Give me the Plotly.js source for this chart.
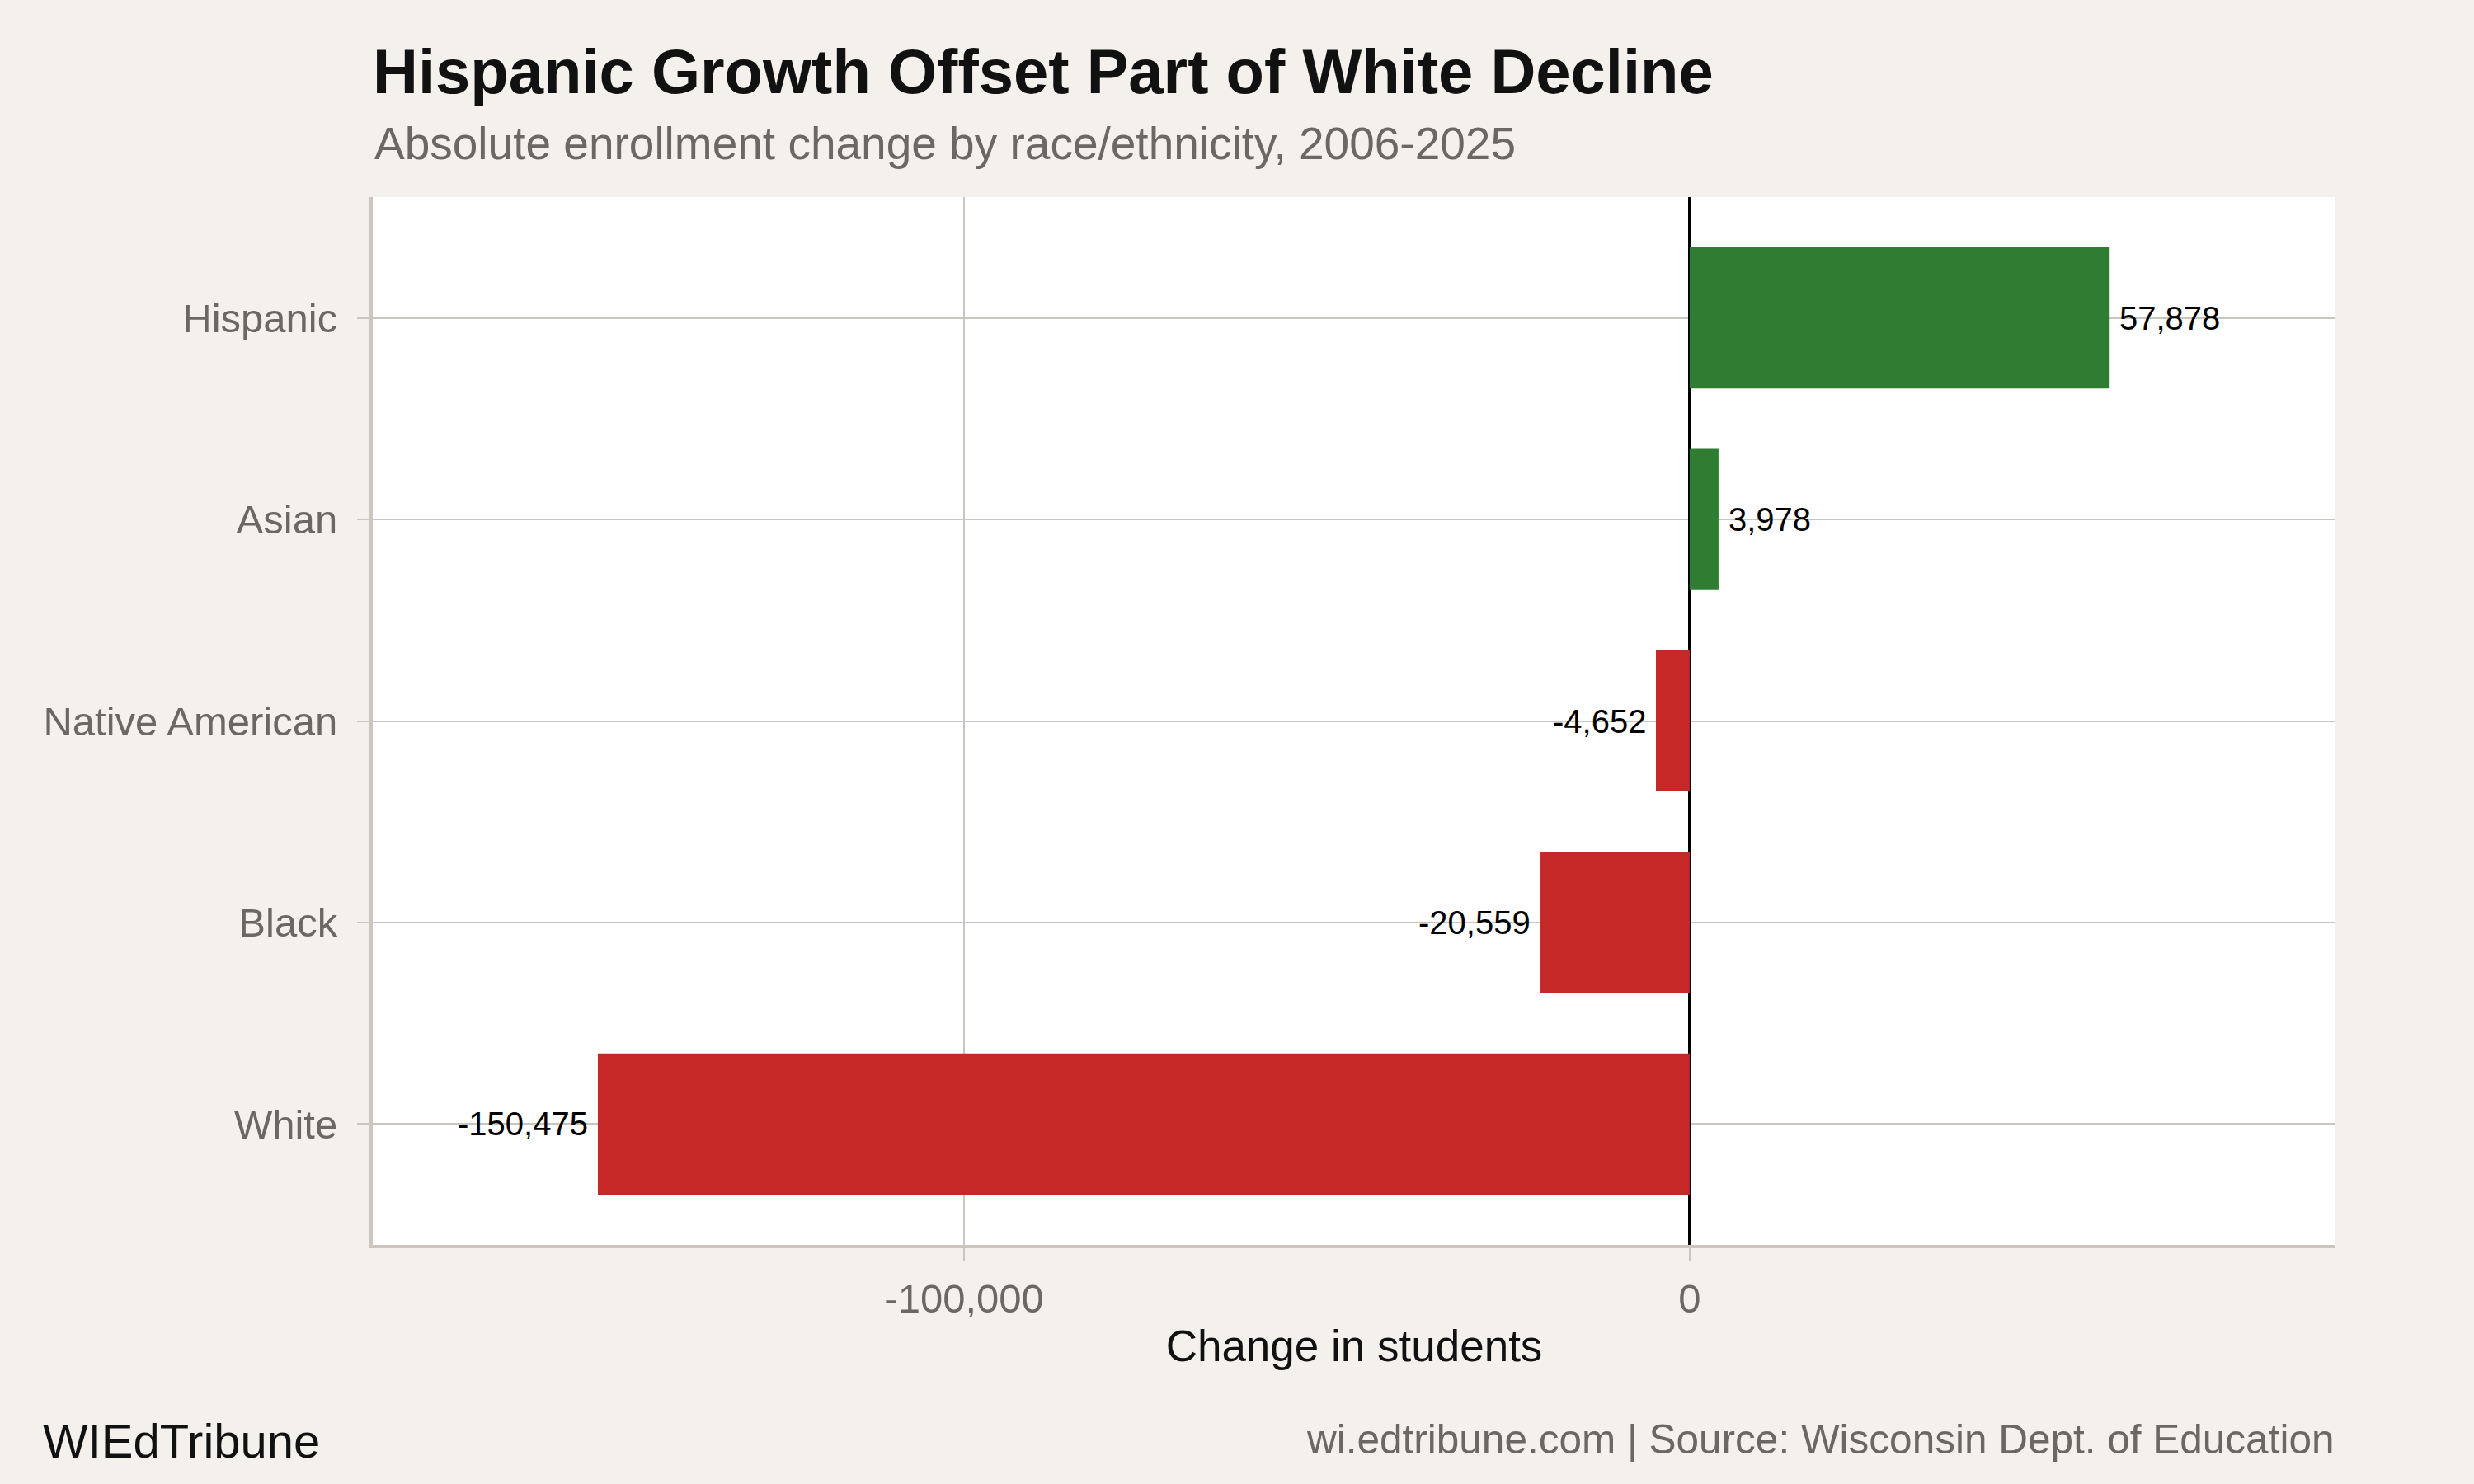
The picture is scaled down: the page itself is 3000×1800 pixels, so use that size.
<!DOCTYPE html>
<html>
<head>
<meta charset="utf-8">
<script src="https://cdn.plot.ly/plotly-3.0.1.min.js"></script>
<style>
html,body{margin:0;padding:0;background:#F4F1EC;}
#chart{width:3000px;height:1800px;}
</style>
</head>
<body>
<div id="chart"></div>
<script>
// Data
const categories = ["Hispanic", "Asian", "Native American", "Black", "White"];
const changes = [57878, 3978, -4652, -20559, -150475];
const xTickVals = [-100000, 0];
const xTickLabels = ["-100,000", "0"];

const FONT = "Liberation Sans, Arial, Helvetica, sans-serif";
const GREEN = "#2E7D32";
const RED = "#C62828";

const labels = changes.map(v => v.toLocaleString("en-US"));
const colors = changes.map(v => v >= 0 ? GREEN : RED);

const trace = {
  type: "bar",
  orientation: "h",
  y: categories,
  x: changes,
  width: 0.7,
  marker: {color: colors, line: {width: 0}},
  hoverinfo: "skip"
};

const valueAnnotations = categories.map((c, i) => ({
  x: changes[i],
  y: c,
  xref: "x", yref: "y",
  text: labels[i],
  showarrow: false,
  xanchor: changes[i] >= 0 ? "left" : "right",
  yanchor: "middle",
  xshift: changes[i] >= 0 ? 10 : -10,
  font: {family: FONT, size: 40, color: "#000000"}
}));

const layout = {
  width: 3000,
  height: 1800,
  paper_bgcolor: "#F4F1EC",
  plot_bgcolor: "#FFFFFF",
  margin: {l: 452, r: 168, t: 239, b: 290, pad: 0},
  showlegend: false,
  font: {family: FONT},
  title: {
    text: "<b>Hispanic Growth Offset Part of White Decline</b>",
    font: {family: FONT, size: 76, color: "#111111"},
    xref: "paper", x: 0, xanchor: "left",
    yref: "container", y: 1 - 86/1800, yanchor: "middle"
  },
  xaxis: {
    range: [-181500, 89000],
    tickvals: xTickVals,
    ticktext: xTickLabels,
    tickfont: {family: FONT, size: 49, color: "#6B6762"},
    ticks: "outside", ticklen: 15, tickwidth: 2, tickcolor: "#C9C6C2",
    ticklabelstandoff: 4,
    showgrid: true, gridcolor: "#C9C6C2", gridwidth: 2,
    zeroline: true, zerolinecolor: "#000000", zerolinewidth: 3,
    showline: true, linecolor: "#CDC6BE", linewidth: 4,
    title: {text: "Change in students", font: {family: FONT, size: 53, color: "#111111"}, standoff: 14},
    fixedrange: true
  },
  yaxis: {
    type: "category",
    categoryorder: "array",
    categoryarray: categories,
    range: [4.6, -0.6],
    tickfont: {family: FONT, size: 49, color: "#6B6762"},
    ticks: "outside", ticklen: 15, tickwidth: 2, tickcolor: "#C9C6C2",
    ticklabelstandoff: 14,
    showgrid: true, gridcolor: "#C9C6C2", gridwidth: 2,
    zeroline: false,
    showline: true, linecolor: "#CDC6BE", linewidth: 4,
    fixedrange: true
  },
  annotations: valueAnnotations.concat([
    {
      text: "Absolute enrollment change by race/ethnicity, 2006-2025",
      xref: "paper", x: 0, xanchor: "left",
      yref: "paper", y: 1 + (239 - 174)/1271, yanchor: "middle",
      showarrow: false,
      font: {family: FONT, size: 55, color: "#6B6762"}
    },
    {
      text: "WIEdTribune",
      xref: "paper", x: -402/2380, xanchor: "left",
      yref: "paper", y: -(1747 - 1510)/1271, yanchor: "middle",
      showarrow: false,
      font: {family: FONT, size: 58, color: "#111111"}
    },
    {
      text: "wi.edtribune.com | Source: Wisconsin Dept. of Education",
      xref: "paper", x: 1, xanchor: "right",
      yref: "paper", y: -(1745 - 1510)/1271, yanchor: "middle",
      showarrow: false,
      font: {family: FONT, size: 49.5, color: "#6B6762"}
    }
  ])
};

Plotly.newPlot("chart", [trace], layout, {displayModeBar: false, staticPlot: true});
</script>
</body>
</html>
